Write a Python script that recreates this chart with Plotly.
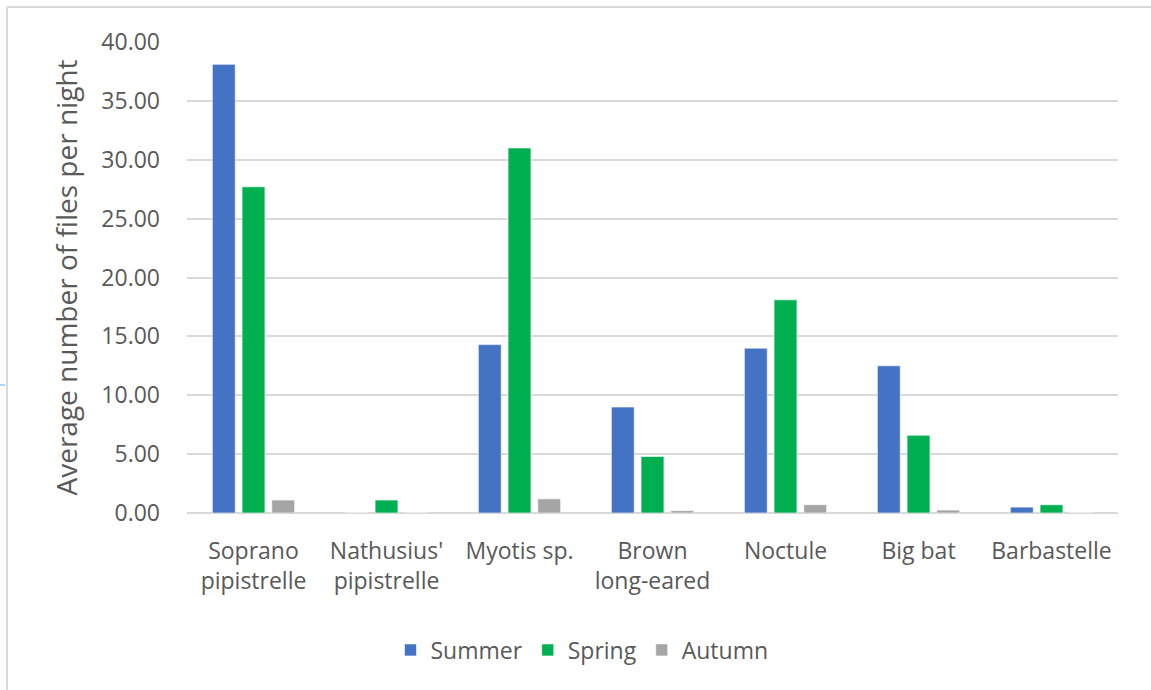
import plotly.graph_objects as go

# Average bat passes (files) per night, by species group and season
species = ["Soprano<br>pipistrelle", "Nathusius'<br>pipistrelle", "Myotis sp.",
           "Brown<br>long-eared", "Noctule", "Big bat", "Barbastelle"]
summer = [38.1, 0.0, 14.3, 9.0, 14.0, 12.5, 0.5]
spring = [27.7, 1.1, 31.0, 4.8, 18.1, 6.6, 0.7]
autumn = [1.1, 0.0, 1.2, 0.2, 0.7, 0.25, 0.0]

y_ticks = [0, 5, 10, 15, 20, 25, 30, 35, 40]

FONT = "Open Sans"
TEXT = "#595959"
GRID = "#d9d9d9"

W, H = 1151, 690
L, R, T, B = 187, 33, 42, 177
PW, PH = W - L - R, H - T - B


def px(x):
    return (x - L) / PW


def py(y):
    return (H - B - y) / PH


fig = go.Figure()
for name, vals, col in [("Summer", summer, "#4472C4"),
                        ("Spring", spring, "#00B050"),
                        ("Autumn", autumn, "#A5A5A5")]:
    fig.add_trace(go.Bar(
        x=species, y=vals, name=name,
        marker=dict(color=col, line=dict(color="rgba(255,255,255,0.6)", width=1)),
    ))

fig.update_layout(
    width=W, height=H,
    margin=dict(l=L, r=R, t=T, b=B, pad=0),
    paper_bgcolor="white", plot_bgcolor="white",
    barmode="group", bargap=0.33, bargroupgap=0.23,
    font=dict(family=FONT, size=23, color=TEXT),
    showlegend=True,
    legend=dict(orientation="h", x=px(582), xanchor="center",
                y=py(650), yanchor="middle",
                font=dict(family=FONT, size=23, color=TEXT),
                itemwidth=30, traceorder="normal"),
    xaxis=dict(showgrid=False, showline=False, ticks="",
               ticklabelstandoff=22,
               tickfont=dict(family=FONT, size=23, color=TEXT)),
    yaxis=dict(range=[0, 40], tickvals=y_ticks,
               ticktext=[f"{v:.2f}" for v in y_ticks],
               showgrid=True, gridcolor=GRID, gridwidth=2,
               zeroline=True, zerolinecolor=GRID, zerolinewidth=2,
               showline=False, ticks="", ticklabelstandoff=26,
               tickfont=dict(family=FONT, size=23, color=TEXT),
               title=dict(text="Average number of files per night",
                          font=dict(family=FONT, size=28, color=TEXT),
                          standoff=15)),
    shapes=[
        # chart-area frame (top and left edges)
        dict(type="line", xref="paper", yref="paper",
             x0=px(7), x1=px(W + 5), y0=py(7), y1=py(7),
             line=dict(color="#d9d9d9", width=2)),
        dict(type="line", xref="paper", yref="paper",
             x0=px(7), x1=px(7), y0=py(7), y1=py(H + 5),
             line=dict(color="#d9d9d9", width=2)),
        dict(type="line", xref="paper", yref="paper",
             x0=px(0), x1=px(5), y0=py(385), y1=py(385),
             line=dict(color="#5aa9e6", width=1)),
    ],
)

fig.write_html("out.html")
